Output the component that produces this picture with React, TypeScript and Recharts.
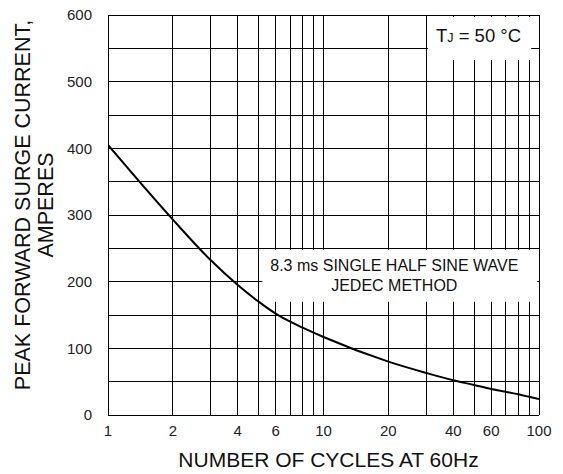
import React from 'react';
import { LineChart, Line, XAxis, YAxis, ReferenceLine, ReferenceArea } from 'recharts';

const cycles = [1, 2, 3, 4, 5, 6, 7, 8, 9, 10, 20, 30, 40, 50, 60, 70, 80, 90, 100];
const surgeCurrent = [405, 293, 232, 195, 170, 152, 140, 131, 123.5, 117, 80, 63, 52, 45, 39, 35, 31, 27.5, 24];
const xTicks = [1, 2, 4, 6, 10, 20, 40, 60, 100];
const yTicks = [0, 100, 200, 300, 400, 500, 600];
const xGrid = [1, 2, 3, 4, 5, 6, 7, 8, 9, 10, 20, 30, 40, 50, 60, 70, 80, 90, 100];
const yGrid = [0, 50, 100, 150, 200, 250, 300, 350, 400, 450, 500, 550, 600];
const xTitle = 'NUMBER OF CYCLES AT 60Hz';
const yTitle1 = 'PEAK FORWARD SURGE CURRENT,';
const yTitle2 = 'AMPERES';
const noteLine1 = '8.3 ms SINGLE HALF SINE WAVE';
const noteLine2 = 'JEDEC METHOD';

const data = cycles.map((c, i) => ({ cycles: c, current: surgeCurrent[i] }));

const FONT = '"Liberation Sans", Arial, Helvetica, sans-serif';

const XTitle = (props: any) => {
  const vb = props.viewBox || {};
  return (
    <text x={vb.x + vb.width / 2 + 5} y={vb.y + 52} textAnchor="middle" fontSize={21} fontFamily={FONT} fill="#111">
      {xTitle}
    </text>
  );
};

const YTitle = (props: any) => {
  const vb = props.viewBox || {};
  const cy = vb.y + vb.height / 2 - 10;
  const x1 = 23;
  const x2 = 46;
  return (
    <g fontFamily={FONT} fontSize={21.5} fill="#111">
      <text x={x1} y={cy} transform={`rotate(-90 ${x1} ${cy})`} textAnchor="middle" dominantBaseline="central">
        {yTitle1}
      </text>
      <text x={x2} y={cy} transform={`rotate(-90 ${x2} ${cy})`} textAnchor="middle" dominantBaseline="central">
        {yTitle2}
      </text>
    </g>
  );
};

const TjLabel = (props: any) => {
  const vb = props.viewBox || {};
  return (
    <text x={vb.x + vb.width / 2 - 1} y={vb.y + 25} textAnchor="middle" fontSize={18.5} fontFamily={FONT} fill="#111">
      T<tspan fontSize={12.5}>J</tspan> = 50 °C
    </text>
  );
};

const NoteLabel = (props: any) => {
  const vb = props.viewBox || {};
  const cx = vb.x + 132;
  return (
    <g fontFamily={FONT} fontSize={16} fill="#111">
      <text x={cx} y={vb.y + 21} textAnchor="middle">{noteLine1}</text>
      <text x={cx} y={vb.y + 41} textAnchor="middle">{noteLine2}</text>
    </g>
  );
};

export default function App() {
  return (
    <div style={{ position: 'absolute', left: 0, top: 0, background: '#fff' }}>
      <LineChart width={563} height={474} data={data} margin={{ top: 15, right: 24, bottom: 0, left: 0 }}>
        <XAxis
          dataKey="cycles"
          type="number"
          scale="log"
          domain={[1, 100]}
          ticks={xTicks}
          interval={0}
          allowDataOverflow
          axisLine={false}
          tickLine={false}
          tickSize={0}
          tickMargin={10}
          height={59}
          tick={{ fill: '#222', fontSize: 15, fontFamily: FONT }}
          label={XTitle}
        />
        <YAxis
          type="number"
          domain={[0, 600]}
          ticks={yTicks}
          interval={0}
          width={108}
          axisLine={false}
          tickLine={false}
          tickSize={0}
          tickMargin={16}
          tick={{ fill: '#222', fontSize: 15, fontFamily: FONT }}
          label={YTitle}
        />
        {yGrid.map((v) => (
          <ReferenceLine key={'y' + v} y={v} stroke="#000" strokeWidth={1} shapeRendering="crispEdges" zIndex={0} />
        ))}
        {xGrid.map((v) => (
          <ReferenceLine key={'x' + v} x={v} stroke="#000" strokeWidth={1} shapeRendering="crispEdges" zIndex={0} />
        ))}
        <ReferenceArea x1={30.5} x2={92} y1={532.5} y2={597} fill="#fff" fillOpacity={1} stroke="none" zIndex={100} label={TjLabel} />
        <ReferenceArea x1={5.2} x2={98.2} y1={170} y2={248} fill="#fff" fillOpacity={1} stroke="none" zIndex={100} label={NoteLabel} />
        <Line
          type="monotone"
          dataKey="current"
          stroke="#000"
          strokeWidth={2}
          dot={false}
          activeDot={false}
          isAnimationActive={false}
        />
      </LineChart>
    </div>
  );
}
